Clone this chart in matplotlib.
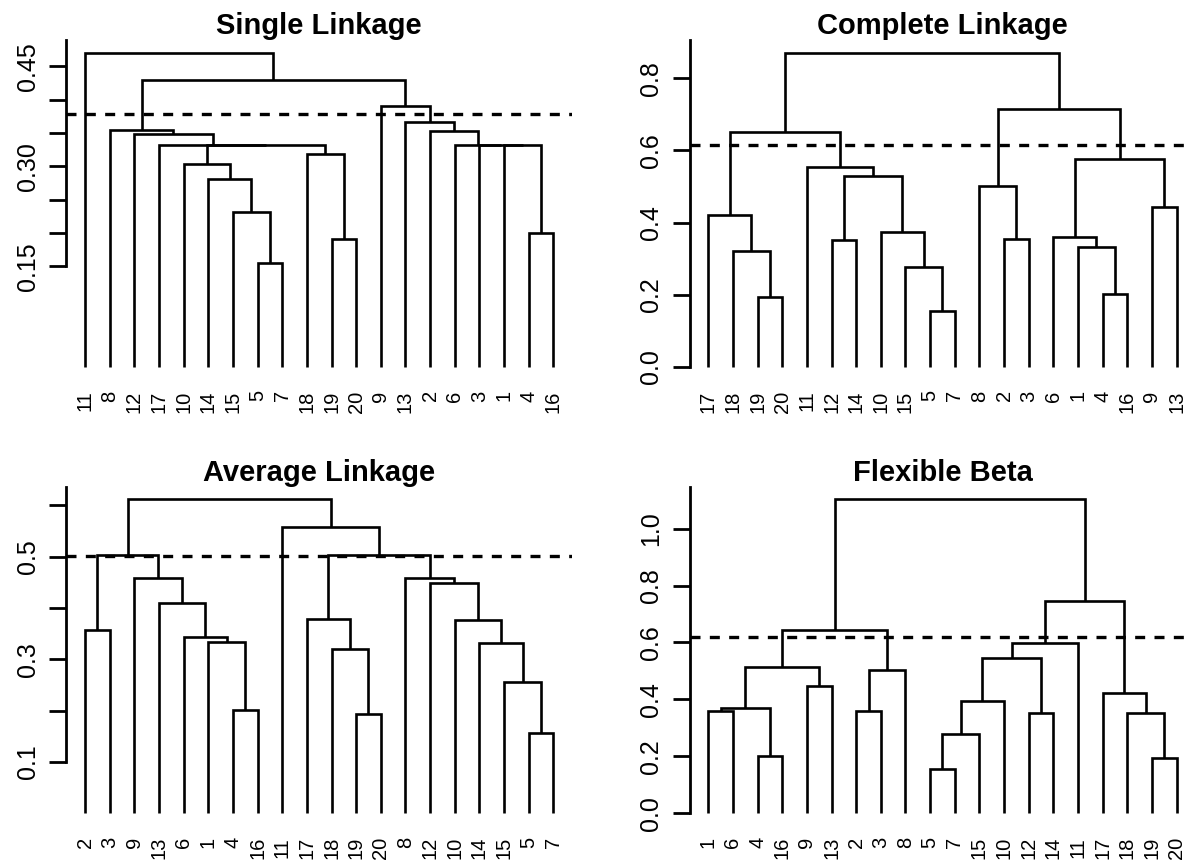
import numpy as np
import matplotlib.pyplot as plt

plt.rcParams['font.family'] = ['Liberation Sans', 'DejaVu Sans']

# leaf orders as drawn, left to right
single_order = [11, 8, 12, 17, 10, 14, 15, 5, 7, 18, 19, 20, 9, 13, 2, 6, 3, 1, 4, 16]
complete_order = [17, 18, 19, 20, 11, 12, 14, 10, 15, 5, 7, 8, 2, 3, 6, 1, 4, 16, 9, 13]
average_order = [2, 3, 9, 13, 6, 1, 4, 16, 11, 17, 18, 19, 20, 8, 12, 10, 14, 15, 5, 7]
flexible_order = [1, 6, 4, 16, 9, 13, 2, 3, 8, 5, 7, 15, 10, 12, 14, 11, 17, 18, 19, 20]

# merge steps like R's hclust: negative = observation, positive = earlier step
single_merge = [(-5, -7, 0.155), (-15, 1, 0.2315), (-14, 2, 0.281), (-10, 3, 0.304),
                (-19, -20, 0.1915), (-18, 5, 0.3185), (4, 6, 0.3325), (-17, 7, 0.3325),
                (-12, 8, 0.349), (-8, 9, 0.355), (-4, -16, 0.20), (-1, 11, 0.3325),
                (-3, 12, 0.3325), (-6, 13, 0.3325), (-2, 14, 0.3535), (-13, 15, 0.3665),
                (-9, 16, 0.39), (10, 17, 0.429), (-11, 18, 0.47)]
complete_merge = [(-5, -7, 0.1557), (-15, 1, 0.2753), (-10, 2, 0.3727), (-12, -14, 0.3504),
                  (4, 3, 0.530), (-11, 5, 0.5544), (-19, -20, 0.1919), (-18, 7, 0.3198),
                  (-17, 8, 0.4218), (9, 6, 0.652), (-2, -3, 0.3541), (-8, 11, 0.5006),
                  (-4, -16, 0.2012), (-1, 13, 0.3319), (-6, 14, 0.3597), (-9, -13, 0.4431),
                  (15, 16, 0.5766), (12, 17, 0.7157), (10, 18, 0.871)]
average_merge = [(-2, -3, 0.3565), (-4, -16, 0.202), (-1, 2, 0.3338), (-6, 3, 0.3435),
                 (-13, 4, 0.4104), (-9, 5, 0.459), (1, 6, 0.503), (-19, -20, 0.1929),
                 (-18, 8, 0.3208), (-17, 9, 0.379), (-5, -7, 0.1571), (-15, 11, 0.2558),
                 (-14, 12, 0.3325), (-10, 13, 0.3773), (-12, 14, 0.4487), (-8, 15, 0.459),
                 (10, 16, 0.503), (-11, 17, 0.5578), (7, 18, 0.6117)]
flexible_merge = [(-1, -6, 0.3596), (-4, -16, 0.2009), (1, 2, 0.3713), (-9, -13, 0.4465),
                  (3, 4, 0.5147), (-2, -3, 0.3584), (6, -8, 0.503), (5, 7, 0.644),
                  (-5, -7, 0.1563), (9, -15, 0.2797), (10, -10, 0.3948), (-12, -14, 0.3525),
                  (11, 12, 0.544), (13, -11, 0.597), (-19, -20, 0.1939), (-18, 15, 0.3537),
                  (-17, 16, 0.4242), (14, 17, 0.7462), (8, 18, 1.1022)]

cut_heights = [0.379, 0.6146, 0.502, 0.6204]
titles = ["Single Linkage", "Complete Linkage", "Average Linkage", "Flexible Beta"]

single_ticks = [0.15, 0.20, 0.25, 0.30, 0.35, 0.40, 0.45]
single_labels = ["0.15", "", "", "0.30", "", "", "0.45"]
complete_ticks = [0.0, 0.2, 0.4, 0.6, 0.8]
complete_labels = ["0.0", "0.2", "0.4", "0.6", "0.8"]
average_ticks = [0.1, 0.2, 0.3, 0.4, 0.5, 0.6]
average_labels = ["0.1", "", "0.3", "", "0.5", ""]
flexible_ticks = [0.0, 0.2, 0.4, 0.6, 0.8, 1.0]
flexible_labels = ["0.0", "0.2", "0.4", "0.6", "0.8", "1.0"]


def dendro(ax, order, merges, cut, ticks, labels, title):
    xpos = {obs: i + 1 for i, obs in enumerate(order)}
    node_x, node_h = [], []

    def where(k):
        if k < 0:
            return xpos[-k], 0.0
        return node_x[k - 1], node_h[k - 1]

    for a, b, h in merges:
        xa, ha = where(a)
        xb, hb = where(b)
        ax.plot([xa, xa, xb, xb], [ha, h, h, hb], color="black", lw=1.9,
                solid_joinstyle="miter", solid_capstyle="butt")
        node_x.append((xa + xb) / 2)
        node_h.append(h)

    top = max(node_h)
    n = len(order)
    ax.set_xlim(1 - 0.04 * (n - 1), n + 0.04 * (n - 1))
    ax.set_ylim(-0.04 * top, 1.04 * top)
    ax.axhline(cut, color="black", lw=2.4, linestyle=(0, (3.0, 2.8)))

    for s in ["top", "right", "bottom"]:
        ax.spines[s].set_visible(False)
    ax.spines["left"].set_linewidth(2.0)
    ax.spines["left"].set_bounds(ticks[0], 1.04 * top)
    ax.set_yticks(ticks, labels)
    ax.tick_params(axis="y", length=12, width=2.0, labelsize=18, pad=7,
                   labelrotation=90)
    for lab in ax.get_yticklabels():
        lab.set_va("center")
    ax.set_xticks(range(1, n + 1), [str(o) for o in order])
    ax.tick_params(axis="x", length=0, labelsize=14.5, pad=8, labelrotation=90)
    ax.set_title(title, fontsize=21, fontweight="bold", pad=3)


fig = plt.figure(figsize=(11.91, 8.63), dpi=100)
boxes = [[0.0557, 0.5606, 0.4246, 0.3928], [0.579, 0.5606, 0.4246, 0.3928],
         [0.0557, 0.043, 0.4246, 0.3928], [0.579, 0.043, 0.4246, 0.3928]]
panels = [(single_order, single_merge, single_ticks, single_labels),
          (complete_order, complete_merge, complete_ticks, complete_labels),
          (average_order, average_merge, average_ticks, average_labels),
          (flexible_order, flexible_merge, flexible_ticks, flexible_labels)]

for box, (order, merges, ticks, labels), cut, title in zip(boxes, panels, cut_heights, titles):
    ax = fig.add_axes(box)
    dendro(ax, order, merges, cut, ticks, labels, title)

fig.savefig("out.png", dpi=100)
